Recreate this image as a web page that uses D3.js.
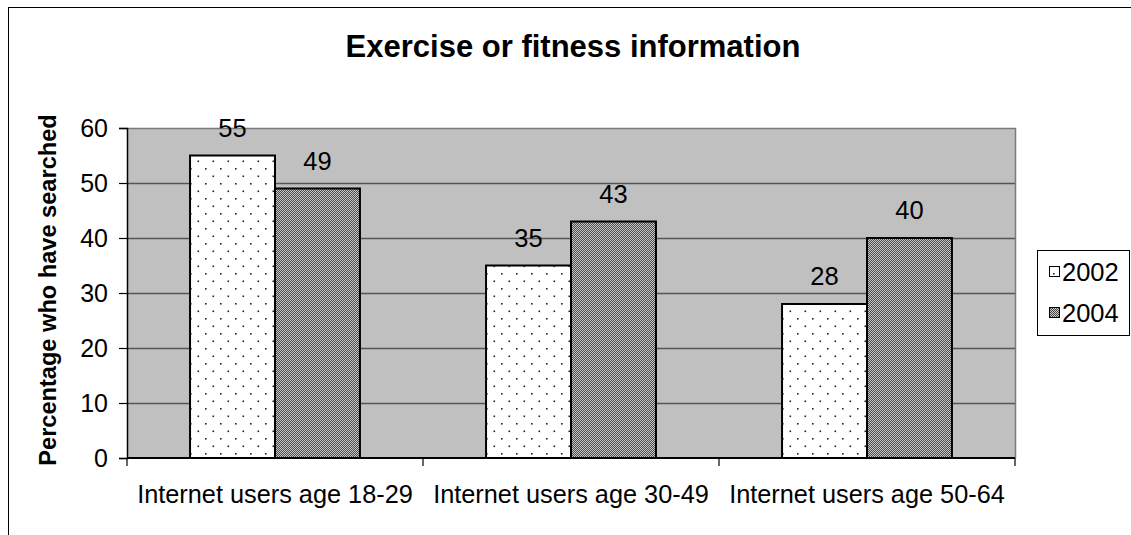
<!DOCTYPE html>
<html>
<head>
<meta charset="utf-8">
<script src="https://cdn.jsdelivr.net/npm/d3@7"></script>
<style>
  html, body { margin: 0; padding: 0; background: #fff; }
  svg { display: block; font-family: Arial, "Liberation Sans", sans-serif; }
</style>
</head>
<body>
<svg id="chart" width="1131" height="535"></svg>
<script>
const titleText = "Exercise or fitness information";
const yLabelText = "Percentage who have searched";
const categories = ["Internet users age 18-29", "Internet users age 30-49", "Internet users age 50-64"];
const seriesNames = ["2002", "2004"];
const values2002 = [55, 35, 28];
const values2004 = [49, 43, 40];
const yTicks = [0, 10, 20, 30, 40, 50, 60];

const seriesValues = [values2002, values2004];
const svg = d3.select("#chart");
const plot = { left: 127, right: 1015, top: 128, bottom: 458 };

// patterns
const defs = svg.append("defs");
const pDots = defs.append("pattern").attr("id", "pat2002").attr("patternUnits", "userSpaceOnUse")
  .attr("width", 15).attr("height", 15);
pDots.append("rect").attr("width", 15).attr("height", 15).attr("fill", "#fff");
pDots.append("rect").attr("x", 3).attr("y", 3).attr("width", 1.6).attr("height", 1.6).attr("fill", "#222");
pDots.append("rect").attr("x", 10.5).attr("y", 10.5).attr("width", 1.6).attr("height", 1.6).attr("fill", "#222");

const pChk = defs.append("pattern").attr("id", "pat2004").attr("patternUnits", "userSpaceOnUse")
  .attr("width", 2).attr("height", 2);
pChk.append("rect").attr("width", 2).attr("height", 2).attr("fill", "#c8c8c8");
pChk.append("rect").attr("x", 0).attr("y", 0).attr("width", 1).attr("height", 1).attr("fill", "#4a4a4a");
pChk.append("rect").attr("x", 1).attr("y", 1).attr("width", 1).attr("height", 1).attr("fill", "#4a4a4a");
const fills = { "2002": "url(#pat2002)", "2004": "url(#pat2004)" };

// outer border (only top and left visible)
svg.append("rect").attr("x", 8.5).attr("y", 7.5).attr("width", 1200).attr("height", 600)
  .attr("fill", "none").attr("stroke", "#000").attr("stroke-width", 1);

// scales
const x0 = d3.scaleBand().domain(categories).range([plot.left, plot.right]).padding(0);
const x1 = d3.scaleBand().domain(seriesNames).range([0, x0.bandwidth()]).paddingInner(0).paddingOuter(0.742);
const y = d3.scaleLinear().domain([0, 60]).range([plot.bottom, plot.top]);

// plot background
svg.append("rect").attr("x", plot.left).attr("y", plot.top)
  .attr("width", plot.right - plot.left).attr("height", plot.bottom - plot.top)
  .attr("fill", "#c0c0c0");

// gridlines
svg.append("g").selectAll("line").data(yTicks.filter(d => d > 0 && d < 60)).join("line")
  .attr("x1", plot.left).attr("x2", plot.right)
  .attr("y1", d => Math.round(y(d)) + 0.5).attr("y2", d => Math.round(y(d)) + 0.5)
  .attr("stroke", "#555").attr("stroke-width", 1.3);

// plot border top/right
svg.append("path")
  .attr("d", `M${plot.left},${plot.top + 0.5}H${plot.right + 0.5}V${plot.bottom}`)
  .attr("fill", "none").attr("stroke", "#7a7a7a").attr("stroke-width", 1.5);

// bars
const groups = svg.append("g").selectAll("g").data(categories).join("g")
  .attr("transform", d => `translate(${x0(d)},0)`);
const barData = (d, i) => seriesNames.map((s, j) => ({ s, v: seriesValues[j][i] }));
groups.selectAll("rect").data(barData).join("rect")
  .attr("x", d => x1(d.s)).attr("width", x1.bandwidth())
  .attr("y", d => y(d.v)).attr("height", d => y(0) - y(d.v))
  .attr("fill", d => fills[d.s]).attr("stroke", "#000").attr("stroke-width", 2);
groups.selectAll("text").data(barData).join("text")
  .attr("x", d => x1(d.s) + x1.bandwidth() / 2).attr("y", d => y(d.v) - 19)
  .attr("text-anchor", "middle").attr("font-size", 25.5).attr("fill", "#000")
  .text(d => d.v);

// y axis
const yAxis = d3.axisLeft(y).tickValues(yTicks).tickSize(8).tickPadding(11);
const gy = svg.append("g").attr("transform", `translate(${plot.left},0)`).call(yAxis);
gy.select(".domain").attr("stroke", "#000").attr("stroke-width", 1.5);
gy.selectAll(".tick line").attr("stroke", "#000").attr("stroke-width", 1.2);
gy.selectAll(".tick text").attr("font-size", 25).attr("font-family", "Arial, 'Liberation Sans', sans-serif").attr("fill", "#000");

// x axis
const xTickScale = d3.scaleLinear().domain([0, 3]).range([plot.left, plot.right]);
const gx = svg.append("g");
gx.append("line").attr("x1", plot.left).attr("x2", plot.right).attr("y1", plot.bottom).attr("y2", plot.bottom)
  .attr("stroke", "#000").attr("stroke-width", 2);
gx.selectAll("line.tk").data([0, 1, 2, 3]).join("line").attr("class", "tk")
  .attr("x1", d => xTickScale(d)).attr("x2", d => xTickScale(d))
  .attr("y1", plot.bottom).attr("y2", plot.bottom + 8).attr("stroke", "#000").attr("stroke-width", 1.2);
gx.selectAll("text").data(categories).join("text")
  .attr("x", d => x0(d) + x0.bandwidth() / 2).attr("y", 503)
  .attr("text-anchor", "middle").attr("font-size", 25.3).attr("fill", "#000")
  .text(d => d);

// title
svg.append("text").attr("x", 573).attr("y", 57).attr("text-anchor", "middle")
  .attr("font-size", 31).attr("font-weight", "bold").text(titleText);

// y label
svg.append("text").attr("transform", `translate(56,${(plot.top + plot.bottom) / 2 - 3}) rotate(-90)`)
  .attr("text-anchor", "middle").attr("font-size", 23.6).attr("font-weight", "bold").text(yLabelText);

// legend
const lg = svg.append("g");
lg.append("rect").attr("x", 1037.5).attr("y", 250.5).attr("width", 92).attr("height", 85)
  .attr("fill", "#fff").attr("stroke", "#000").attr("stroke-width", 1);
const legendY = d3.scalePoint().domain(seriesNames).range([272, 313]);
lg.selectAll("rect.sw").data(seriesNames).join("rect").attr("class", "sw")
  .attr("x", 1049.5).attr("y", d => legendY(d) - 5.5).attr("width", 10).attr("height", 10)
  .attr("fill", d => fills[d]).attr("stroke", "#000").attr("stroke-width", 1);
lg.selectAll("text").data(seriesNames).join("text")
  .attr("x", 1062).attr("y", d => legendY(d) + 8.5).attr("font-size", 25.5).text(d => d);
</script>
</body>
</html>
